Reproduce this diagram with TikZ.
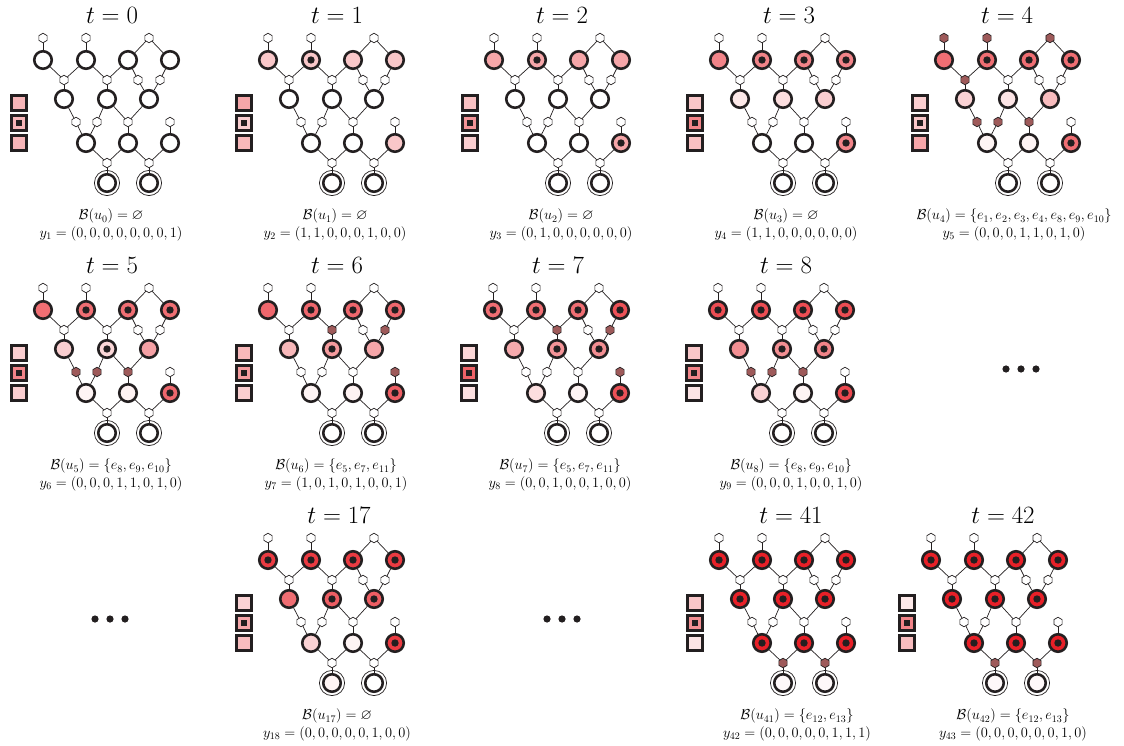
\documentclass[tikz,border=0pt]{standalone}
\usepackage{xcolor}
\usepackage{amsmath, amssymb}
\usepackage{tikz}
\usetikzlibrary{shapes.geometric}

\definecolor{vred}{RGB}{232,32,40}
\definecolor{ink}{RGB}{35,31,32}
\definecolor{hexbrown}{RGB}{158,90,90}

\tikzset{
  vert/.style={circle, draw=ink, line width=2.6pt, minimum size=17.5pt, inner sep=0pt},
  hedge/.style={regular polygon, regular polygon sides=6, shape border rotate=30, draw=ink, line width=0.7pt, minimum size=9.5pt, inner sep=0pt},
  sbox/.style={rectangle, draw=ink, line width=2.3pt, minimum size=15pt, inner sep=0pt},
  link/.style={draw=ink, line width=0.7pt},
  ttl/.style={font=\fontsize{26}{30}\selectfont},
  captxt/.style={font=\fontsize{14.6}{17.5}\selectfont, align=center},
}

% one state of the hypergraph: #1 name, #2 origin, #3 vertex shades, #4 dots, #5 box shades, #6 marked hyperedges
\newcommand{\hgpanel}[6]{%
  \begin{scope}[shift={#2}]
    % vertices
    \foreach \n/\vx/\vy in {1/0/0, 2/43/0, 3/85/0, 4/127/0, 5/21/39, 6/64/39, 7/106/39, 8/43/83, 9/85/83, 10/127/83, 11/64/123, 12/106/123} {
      \pgfmathtruncatemacro\lv{{#3}[\n-1]}
      \pgfmathtruncatemacro\dt{{#4}[\n-1]}
      \node[vert, fill=vred!\lv!white] (#1v\n) at (\vx,\vy) {};
      \ifnum\dt=1 \fill[ink] (\vx,\vy) circle (3.7pt); \fi
    }
    \foreach \n in {11,12} \draw[ink, line width=0.7pt] (#1v\n) circle (12.6pt);
    % hyperedges
    \foreach \e/\ex/\ey in {1/0/-22, 2/43/-22, 3/106/-22, 4/21/20, 5/64/20, 6/95/20, 7/117/20, 8/33/62, 9/54/62, 10/85/62, 11/127/62, 12/64/103, 13/106/103} {
      \pgfmathtruncatemacro\hm{{#6}[\e-1]*100}
      \node[hedge, fill=hexbrown!\hm!white] (#1e\e) at (\ex,\ey) {};
    }
    \foreach \e/\w in {1/1, 2/2, 3/3, 3/4, 4/1, 4/2, 4/5, 5/2, 5/3, 5/6, 6/3, 6/7, 7/4, 7/7, 8/5, 8/8, 9/6, 9/8, 10/6, 10/7, 10/9, 11/10, 12/8, 12/9, 12/11, 13/9, 13/10, 13/12}
      \draw[link] (#1e\e) -- (#1v\w);
    % boxes
    \foreach \s/\sy in {1/43, 2/63, 3/83} {
      \pgfmathtruncatemacro\bl{{#5}[\s-1]}
      \node[sbox, fill=vred!\bl!white] (#1s\s) at (-24,\sy) {};
    }
    \fill[ink] (#1s2) +(-3.2pt,-3.2pt) rectangle +(3.2pt,3.2pt);
  \end{scope}}

\begin{document}
\begin{tikzpicture}[x=1pt, y=-1pt]
    \useasboundingbox (0,0) rectangle (1124,746);

    % Row 1: t = 0 ... 4
    \hgpanel{p0}{(43,60)}{0,0,0,0,0,0,0,0,0,0,0,0}{0,0,0,0,0,0,0,0,0,0,0,0}{33,33,33}{0,0,0,0,0,0,0,0,0,0,0,0,0}
    \node[ttl] (t0) at (112,15) {$t=0$};
    \node[captxt] (c0) at (111,225) {$\mathcal{B}(u_0)=\varnothing$\\$y_1=(0,0,0,0,0,0,0,1)$};

    \hgpanel{p1}{(268,60)}{25,25,25,25,0,0,0,0,0,25,0,0}{0,1,0,0,0,0,0,0,0,0,0,0}{40,22,32}{0,0,0,0,0,0,0,0,0,0,0,0,0}
    \node[ttl] (t1) at (337,15) {$t=1$};
    \node[captxt] (c1) at (335,225) {$\mathcal{B}(u_1)=\varnothing$\\$y_2=(1,1,0,0,0,1,0,0)$};

    \hgpanel{p2}{(494,60)}{40,40,40,40,0,0,0,0,0,40,0,0}{0,1,0,0,0,0,0,0,0,1,0,0}{28,48,22}{0,0,0,0,0,0,0,0,0,0,0,0,0}
    \node[ttl] (t2) at (562,15) {$t=2$};
    \node[captxt] (c2) at (561,225) {$\mathcal{B}(u_2)=\varnothing$\\$y_3=(0,1,0,0,0,0,0,0)$};

    \hgpanel{p3}{(719,60)}{55,55,55,55,10,15,22,0,0,55,0,0}{0,1,1,1,0,0,0,0,0,1,0,0}{25,55,28}{0,0,0,0,0,0,0,0,0,0,0,0,0}
    \node[ttl] (t3) at (789,15) {$t=3$};
    \node[captxt] (c3) at (786,225) {$\mathcal{B}(u_3)=\varnothing$\\$y_4=(1,1,0,0,0,0,0,0)$};

    \hgpanel{p4}{(944,60)}{65,65,65,65,20,12,30,5,5,65,0,0}{0,1,1,1,0,0,0,0,0,1,0,0}{22,25,40}{1,1,1,1,0,0,0,1,1,1,0,0,0}
    \node[ttl] (t4) at (1007,15) {$t=4$};
    \node[captxt] (c4) at (1014,225) {$\mathcal{B}(u_4)=\{e_1,e_2,e_3,e_4,e_8,e_9,e_{10}\}$\\$y_5=(0,0,0,1,1,0,1,0)$};

    % Row 2: t = 5 ... 8
    \hgpanel{p5}{(43,310)}{65,65,65,65,22,18,42,5,6,68,0,0}{0,1,1,1,0,1,0,0,0,1,0,0}{22,55,22}{0,0,0,0,0,0,0,1,1,1,0,0,0}
    \node[ttl] (t5) at (112,265) {$t=5$};
    \node[captxt] (c5) at (111,475) {$\mathcal{B}(u_5)=\{e_8,e_9,e_{10}\}$\\$y_6=(0,0,0,1,1,0,1,0)$};

    \hgpanel{p6}{(268,310)}{68,68,68,68,32,45,40,5,6,72,0,0}{0,1,1,1,0,1,0,0,0,1,0,0}{32,45,22}{0,0,0,0,1,0,1,0,0,0,1,0,0}
    \node[ttl] (t6) at (337,265) {$t=6$};
    \node[captxt] (c6) at (336,475) {$\mathcal{B}(u_6)=\{e_5,e_7,e_{11}\}$\\$y_7=(1,0,1,0,1,0,0,1)$};

    \hgpanel{p7}{(493,310)}{65,65,65,78,38,48,50,15,5,78,0,0}{1,1,1,1,0,1,1,0,0,1,0,0}{18,70,14}{0,0,0,0,1,0,1,0,0,0,1,0,0}
    \node[ttl] (t7) at (558,265) {$t=7$};
    \node[captxt] (c7) at (560,475) {$\mathcal{B}(u_7)=\{e_5,e_7,e_{11}\}$\\$y_8=(0,0,1,0,0,1,0,0)$};

    \hgpanel{p8}{(718,310)}{80,80,80,80,50,50,55,20,5,82,0,0}{1,1,1,1,0,1,1,0,0,1,0,0}{25,55,12}{0,0,0,0,0,0,0,1,1,1,0,0,0}
    \node[ttl] (t8) at (786,265) {$t=8$};
    \node[captxt] (c8) at (791,475) {$\mathcal{B}(u_8)=\{e_8,e_9,e_{10}\}$\\$y_9=(0,0,0,1,0,0,1,0)$};

    \foreach \d in {-15,0,15} \fill[ink] (1021+\d,369) circle (3.6pt);

    % Row 3: t = 17, 41, 42
    \foreach \d in {-15,0,15} \fill[ink] (110+\d,619) circle (3.6pt);

    \hgpanel{p17}{(268,560)}{88,88,88,88,65,72,72,20,5,88,5,0}{1,1,1,1,0,1,1,0,0,1,0,0}{20,40,30}{0,0,0,0,0,0,0,0,0,0,0,0,0}
    \node[ttl] (t17) at (339,515) {$t=17$};
    \node[captxt] (c17) at (337,725) {$\mathcal{B}(u_{17})=\varnothing$\\$y_{18}=(0,0,0,0,0,1,0,0)$};

    \foreach \d in {-15,0,15} \fill[ink] (562+\d,619) circle (3.6pt);

    \hgpanel{p41}{(719,560)}{100,100,100,100,100,100,100,100,100,100,3,3}{1,1,1,1,1,1,1,1,1,1,0,0}{25,50,12}{0,0,0,0,0,0,0,0,0,0,0,1,1}
    \node[ttl] (t41) at (791,515) {$t=41$};
    \node[captxt] (c41) at (797,725) {$\mathcal{B}(u_{41})=\{e_{12},e_{13}\}$\\$y_{42}=(0,0,0,0,0,1,1,1)$};

    \hgpanel{p42}{(931,560)}{100,100,100,100,100,100,100,100,100,100,3,3}{1,1,1,1,1,1,1,1,1,1,0,0}{10,55,30}{0,0,0,0,0,0,0,0,0,0,0,1,1}
    \node[ttl] (t42) at (1003,515) {$t=42$};
    \node[captxt] (c42) at (1013,725) {$\mathcal{B}(u_{42})=\{e_{12},e_{13}\}$\\$y_{43}=(0,0,0,0,0,0,1,0)$};
\end{tikzpicture}
\end{document}
